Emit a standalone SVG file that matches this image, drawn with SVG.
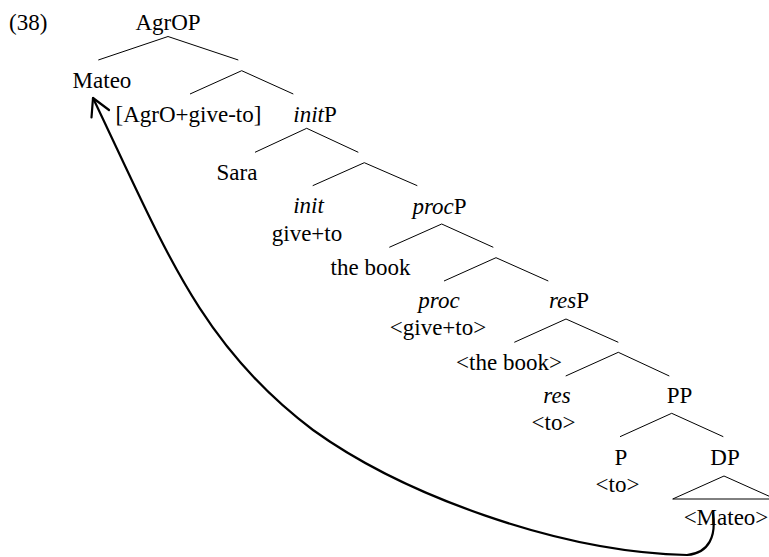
<svg xmlns="http://www.w3.org/2000/svg" width="769" height="557" viewBox="0 0 769 557">
<style>
text{font-family:"Liberation Serif","Times New Roman",serif;font-size:23px;fill:#000;text-anchor:middle}
.it{font-style:italic}
.br{stroke:#000;stroke-width:1;fill:none}
.mv{stroke:#000;stroke-width:2.2;fill:none;stroke-linecap:round;stroke-linejoin:round}
</style>
<rect width="769" height="557" fill="#fff"/>
<g id="label38"><text x="9" y="30" style="text-anchor:start">(38)</text></g>
<g id="n-AgrOP"><text x="168" y="30">AgrOP</text></g>
<g id="n-Mateo"><text x="102" y="88">Mateo</text></g>
<g id="n-AgrO-head"><text x="188.5" y="122">[AgrO+give-to]</text></g>
<g id="n-initP"><text x="315" y="122"><tspan class="it">init</tspan>P</text></g>
<g id="n-Sara"><text x="237" y="180">Sara</text></g>
<g id="n-init"><text x="308.5" y="213" class="it">init</text><text x="307" y="241">give+to</text></g>
<g id="n-procP"><text x="439.5" y="214"><tspan class="it">proc</tspan>P</text></g>
<g id="n-thebook"><text x="370.5" y="275">the book</text></g>
<g id="n-proc"><text x="439" y="308" class="it">proc</text><text x="438" y="335">&lt;give+to&gt;</text></g>
<g id="n-resP"><text x="569" y="308"><tspan class="it">res</tspan>P</text></g>
<g id="n-thebook2"><text x="509" y="370">&lt;the book&gt;</text></g>
<g id="n-res"><text x="557" y="403" class="it">res</text><text x="553.5" y="430">&lt;to&gt;</text></g>
<g id="n-PP"><text x="679.5" y="403">PP</text></g>
<g id="n-P"><text x="621" y="465">P</text><text x="617.5" y="492">&lt;to&gt;</text></g>
<g id="n-DP"><text x="725" y="465">DP</text><text x="726" y="525">&lt;Mateo&gt;</text></g>
<g id="connectors">
<path class="br" d="M98.3 60 L168 36.5 L238.3 60"/>
<path class="br" d="M190 94 L241.7 70.7 L293.3 94"/>
<path class="br" d="M255 152.3 L306.7 128.3 L358.3 152.3"/>
<path class="br" d="M312.7 185.7 L364.3 162.7 L417.3 185.7"/>
<path class="br" d="M389.3 247.3 L441.7 224 L493.3 247.3"/>
<path class="br" d="M444 281 L496 257.7 L548.3 281"/>
<path class="br" d="M514.3 342.3 L566 319 L618.3 342.3"/>
<path class="br" d="M565.7 376 L618.3 352.3 L669.3 376"/>
<path class="br" d="M620 436.7 L671.7 413.3 L723.3 436.7"/>
<path class="br" d="M672.7 499 L724 476 L775.3 499 Z"/>
<path class="mv" d="M713 514 C716 535 710 553 687 555 C557 552 402 494 313 430 C201 346 166 251 93 98"/>
<path class="mv" d="M91.5 117.5 L93 98 L109 110"/>
</g>
</svg>
